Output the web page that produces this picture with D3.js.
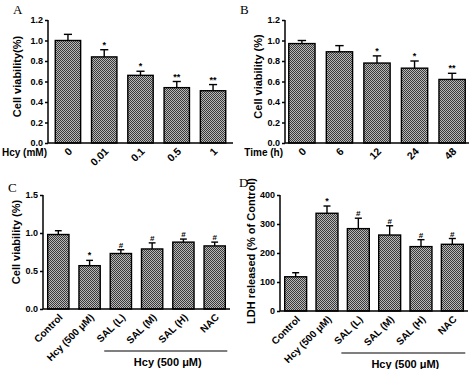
<!DOCTYPE html>
<html><head><meta charset="utf-8">
<script src="https://cdn.jsdelivr.net/npm/d3@7"></script>
<style>
html,body{margin:0;padding:0;background:#fff;}
</style></head>
<body>
<svg id="c" width="474" height="369"></svg>
<script>
// ---- data ----
const catsA = ["0","0.01","0.1","0.5","1"];
const valsA = [1.00,0.84,0.66,0.54,0.51];
const errA  = [0.06,0.07,0.04,0.06,0.06];
const sigA  = ["","*","*","**","**"];
const ticksA = [0,0.2,0.4,0.6,0.8,1.0,1.2];

const catsB = ["0","6","12","24","48"];
const valsB = [0.97,0.89,0.78,0.73,0.62];
const errB  = [0.03,0.06,0.07,0.07,0.06];
const sigB  = ["","","*","*","**"];
const ticksB = [0,0.2,0.4,0.6,0.8,1.0,1.2];

const catsC = ["Control","Hcy (500 μM)","SAL (L)","SAL (M)","SAL (H)","NAC"];
const valsC = [0.98,0.57,0.73,0.79,0.88,0.83];
const errC  = [0.05,0.07,0.05,0.08,0.04,0.05];
const sigC  = ["","*","#","#","#","#"];
const ticksC = [0,0.5,1.0,1.5];

const catsD = ["Control","Hcy (500 μM)","SAL (L)","SAL (M)","SAL (H)","NAC"];
const valsD = [118,337,284,262,222,230];
const errD  = [14,25,36,32,24,20];
const sigD  = ["","*","#","#","#","#"];
const ticksD = [0,100,200,300,400];

const SANS = "Arial, 'Liberation Sans', sans-serif";
const SERIF = "'Times New Roman', 'Liberation Serif', serif";
const svg = d3.select("#c");
const defs = svg.append("defs");
const pat = defs.append("pattern").attr("id","chk").attr("width",2).attr("height",2)
  .attr("patternUnits","userSpaceOnUse");
pat.append("rect").attr("width",2).attr("height",2).attr("fill","#b8b8b8");
pat.append("rect").attr("x",0).attr("y",0).attr("width",1).attr("height",1).attr("fill","#3a3a3a");
pat.append("rect").attr("x",1).attr("y",1).attr("width",1).attr("height",1).attr("fill","#3a3a3a");

function txt(sel, size){
  return sel.style("font-family",SANS).style("font-weight","bold").style("font-size",size+"px").attr("fill","#000");
}

function panel(o){
  const g = svg.append("g");
  const y = d3.scaleLinear().domain(o.ydom).range([o.y0,o.y1]);
  const x = d3.scaleBand().domain(o.cats).range([o.x0,o.x1]).paddingInner(o.pi).paddingOuter(o.po);
  // y axis
  const ya = g.append("g").attr("transform",`translate(${o.x0},0)`)
    .call(d3.axisLeft(y).tickValues(o.ticks).tickSize(3).tickPadding(2).tickFormat(o.fmt));
  ya.select(".domain").attr("stroke","#000").attr("stroke-width",1.5).attr("d",`M0,${o.y0}V${o.y1}`);
  ya.selectAll(".tick line").attr("stroke-width",1.5);
  txt(ya.selectAll("text"),9);
  // bars
  g.selectAll("rect.bar").data(o.vals).enter().append("rect")
    .attr("x",(d,i)=>x(o.cats[i])).attr("width",x.bandwidth())
    .attr("y",d=>y(d)).attr("height",d=>y(0)-y(d))
    .attr("fill","url(#chk)").attr("stroke","#000").attr("stroke-width",1.4);
  // error bars
  const cw = x.bandwidth()*0.32;
  o.vals.forEach((v,i)=>{
    const cx = x(o.cats[i])+x.bandwidth()/2;
    g.append("line").attr("x1",cx).attr("x2",cx).attr("y1",y(v)).attr("y2",y(v+o.err[i]))
      .attr("stroke","#000").attr("stroke-width",1.4);
    g.append("line").attr("x1",cx-cw/2).attr("x2",cx+cw/2).attr("y1",y(v+o.err[i])).attr("y2",y(v+o.err[i]))
      .attr("stroke","#000").attr("stroke-width",1.4);
    if(o.sig[i]) txt(g.append("text").attr("x",cx).attr("y",y(v+o.err[i])-2).attr("text-anchor","middle")
      .text(o.sig[i]), o.sig[i]=="#"?8:9);
  });
  // x axis line
  g.append("line").attr("x1",o.x0).attr("x2",o.x1).attr("y1",o.y0).attr("y2",o.y0)
    .attr("stroke","#000").attr("stroke-width",1.5);
  // x labels (rotated 45°)
  o.cats.forEach(c=>{
    const lx = x(c)+x.bandwidth()/2 + 5, ly = o.y0 + 9;
    txt(g.append("text").attr("x",lx).attr("y",ly)
      .attr("transform",`rotate(-45 ${lx} ${ly})`)
      .attr("text-anchor","end").text(c), o.xfs);
  });
  // y title
  txt(g.append("text").attr("transform",`translate(${o.ytx},${(o.y0+o.y1)/2+o.yto}) rotate(-90)`)
    .attr("text-anchor","middle").text(o.ytitle), 11);
  // panel letter
  g.append("text").attr("x",o.lx).attr("y",o.ly).style("font-family",SERIF)
    .style("font-weight","normal").style("font-size","13px").text(o.letter);
  if(o.xname) txt(g.append("text").attr("x",o.xnx).attr("y",o.y0+13).attr("text-anchor","end")
    .text(o.xname), 10);
  if(o.group){
    const gx0 = x(o.cats[2]) - 6, gx1 = x(o.cats[5])+x.bandwidth()+2;
    g.append("line").attr("x1",gx0).attr("x2",gx1).attr("y1",o.y0+42).attr("y2",o.y0+42)
      .attr("stroke","#000").attr("stroke-width",1.2);
    txt(g.append("text").attr("x",(gx0+gx1)/2+2).attr("y",o.y0+57).attr("text-anchor","middle")
      .text(o.group), 11);
  }
}

const f1 = d3.format(".1f");
panel({cats:catsA,vals:valsA,err:errA,sig:sigA,ticks:ticksA,ydom:[0,1.2],y0:143,y1:20,x0:48,x1:233,pi:0.3,po:0.2,
  fmt:f1,ytitle:"Cell viability(%)",ytx:21,yto:-5,letter:"A",lx:13,ly:14,xname:"Hcy (mM)",xnx:47,xfs:10.5});
panel({cats:catsB,vals:valsB,err:errB,sig:sigB,ticks:ticksB,ydom:[0,1.2],y0:143,y1:20,x0:285,x1:469,pi:0.3,po:0.1,
  fmt:f1,ytitle:"Cell viability (%)",ytx:262,yto:-5,letter:"B",lx:240,ly:14,xname:"Time (h)",xnx:283,xfs:10.5});
panel({cats:catsC,vals:valsC,err:errC,sig:sigC,ticks:ticksC,ydom:[0,1.5],y0:309,y1:195,x0:43,x1:230,pi:0.32,po:0.15,
  fmt:f1,ytitle:"Cell viability (%)",ytx:20,yto:-10,letter:"C",lx:8,ly:192,xfs:10,group:"Hcy (500 μM)"});
panel({cats:catsD,vals:valsD,err:errD,sig:sigD,ticks:ticksD,ydom:[0,400],y0:311,y1:195,x0:280,x1:468,pi:0.3,po:0.15,
  fmt:d3.format("d"),ytitle:"LDH released (% of Control)",ytx:255,yto:-2,letter:"D",lx:239,ly:187,xfs:10,group:"Hcy (500 μM)"});
</script>
</body></html>
